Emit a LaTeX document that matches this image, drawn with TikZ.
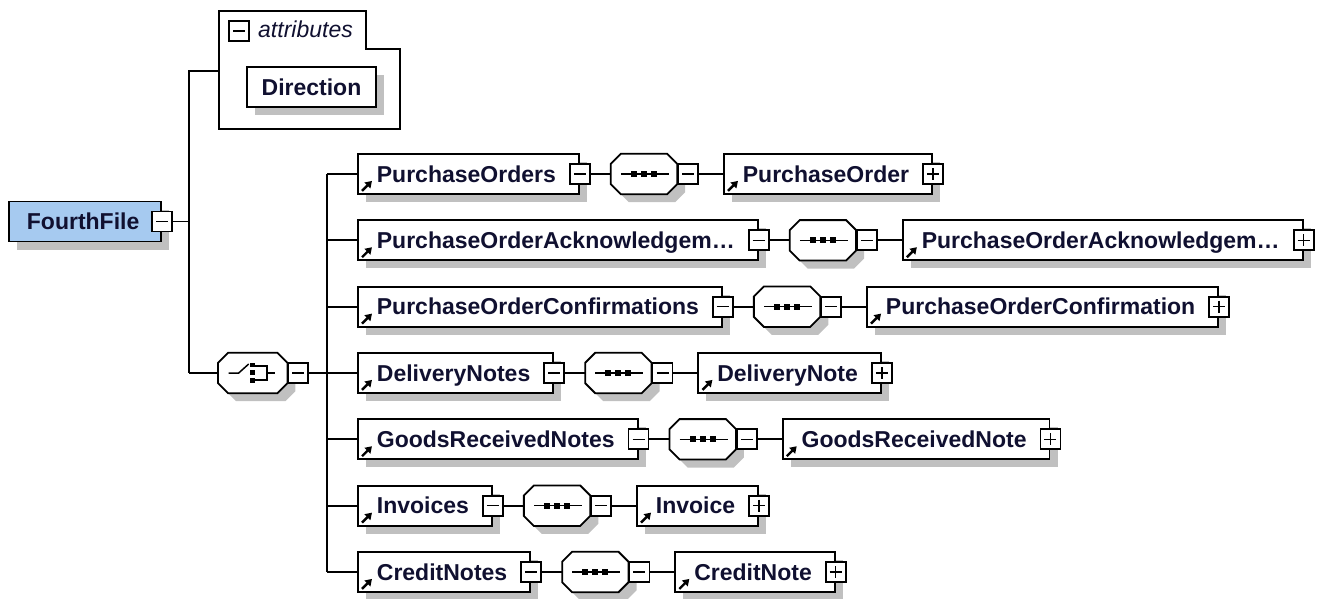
\documentclass[tikz,border=0pt]{standalone}
\usepackage{fontspec}
\setmainfont{Liberation Sans}
\usetikzlibrary{calc,shadows,arrows.meta}
\definecolor{rootblue}{RGB}{166,202,240}
\definecolor{shd}{RGB}{192,192,192}
\definecolor{txt}{RGB}{16,16,48}
\tikzset{
 lw/.style={line width=1.8pt},
 shdw/.style={drop shadow={shadow xshift=8pt,shadow yshift=-8pt,fill=shd,opacity=1}},
 elem/.style={draw, lw, fill=white, shdw, anchor=west, minimum height=40pt, inner xsep=0pt, inner ysep=0pt, text height=16.5pt, text depth=0pt, text=txt, font=\bfseries\fontsize{23}{27}\selectfont},
 pmbox/.style={draw, lw, fill=white, minimum size=20pt, inner sep=0pt, anchor=center},
 minus/.style={pmbox, path picture={\draw[line width=1.5pt] ([xshift=4pt]path picture bounding box.west) -- ([xshift=-4pt]path picture bounding box.east);}},
 plus/.style={pmbox, path picture={\draw[line width=1.5pt] ([xshift=4pt]path picture bounding box.west) -- ([xshift=-4pt]path picture bounding box.east); \draw[line width=1.5pt] ([yshift=-4pt]path picture bounding box.north) -- ([yshift=4pt]path picture bounding box.south);}},
 octo/.style={rectangle, minimum width=66pt, minimum height=40pt, inner sep=0pt},
 conn/.style={lw},
 icon/.style={line width=1.5pt},
}
\newcommand\octpath[3]{($(#1.north west)+(10+#2,#3)$) -- ($(#1.north east)+(-10+#2,#3)$) -- ($(#1.north east)+(#2,10+#3)$) -- ($(#1.south east)+(#2,-10+#3)$) -- ($(#1.south east)+(-10+#2,#3)$) -- ($(#1.south west)+(10+#2,#3)$) -- ($(#1.south west)+(#2,-10+#3)$) -- ($(#1.north west)+(#2,10+#3)$) -- cycle}
\newcommand\drawocto[1]{\fill[shd] \octpath{#1}{8}{8}; \draw[lw,fill=white] \octpath{#1}{0}{0};}
\newcommand\elemarrow[1]{\draw[line width=2.4pt,-{Triangle[length=6.5pt,width=8pt]}] ($(#1.south west)+(5,-4)$) -- ($(#1.south west)+(15,-14)$);}
\newcommand\seqicon[1]{\draw[icon] ($(#1.center)+(-23,0)$) -- ($(#1.center)+(25,0)$);
 \foreach \dx in {-10,0,10} {\fill ($(#1.center)+(\dx-3,-3)$) rectangle ++(6,6);}}
\newcommand\xrow[4]{%
 \node[elem] (b#1) at (357,#2) {\hspace*{19pt}#3\hspace*{23pt}};
 \elemarrow{b#1}
 \node[minus] (b#1m) at (b#1.east) {};
 \node[octo, anchor=west] (s#1) at ($(b#1.east)+(31,0)$) {};
 \drawocto{s#1}
 \seqicon{s#1}
 \node[minus, anchor=west] (s#1m) at (s#1.east) {};
 \node[elem] (c#1) at ($(s#1m.east)+(24,0)$) {\hspace*{19pt}#4\hspace*{23pt}};
 \elemarrow{c#1}
 \node[plus] (c#1p) at (c#1.east) {};
 \draw[conn] (bus#1) -- (b#1);
 \draw[conn] (b#1m) -- (s#1);
 \draw[conn] (s#1m) -- (c#1);
}
\begin{document}
\begin{tikzpicture}[x=1pt,y=-1pt]
\useasboundingbox (0,0) rectangle (1322,599);
% attributes container
\draw[lw] (219,11) -- (366,11) -- (366,49) -- (400,49) -- (400,129) -- (219,129) -- cycle;
\node[minus] (attrm) at (239,31) {};
\node[anchor=base west, text=txt, font=\itshape\fontsize{23}{27}\selectfont, inner sep=0pt] (attrlbl) at (258,38) {attributes};
\node[elem, anchor=center, minimum width=129pt] (dir) at (311.5,87) {Direction};
% root
\node[elem, fill=rootblue] (root) at (8,221.5) {\hspace*{18pt}FourthFile\hspace*{22pt}};
\node[minus] (rootm) at (root.east) {};
\coordinate (j1) at (189,71);
\coordinate (j2) at (189,373);
\coordinate (attrW) at (219,71);
\draw[conn] (attrW) -- (j1) -- (j2);
\draw[conn] (rootm) -- (rootm -| j1);
% bus
\foreach \i/\y in {1/174,2/240.3,3/306.7,4/373,5/439.3,6/505.7,7/572} {\coordinate (bus\i) at (327,\y);}
% choice
\node[octo, anchor=west, minimum width=69pt] (ch) at (218,373) {};
\drawocto{ch}
\draw[icon] ($(ch.center)+(-24,0)$) -- ($(ch.center)+(-14,0)$) -- ($(ch.center)+(-4,-9)$);
\fill ($(ch.center)+(-2.5,-10)$) rectangle ++(5,4);
\fill ($(ch.center)+(-2.5,-3)$) rectangle ++(5,5);
\fill ($(ch.center)+(-2.5,5)$) rectangle ++(5,5);
\draw[icon] ($(ch.center)+(2.5,-7)$) -- ++(12,0) -- ++(0,14) -- ++(-12,0);
\draw[icon] ($(ch.center)+(14.5,0)$) -- ++(8,0);
\node[minus, anchor=west] (chm) at (ch.east) {};
\draw[conn] (j2) -- (ch);
\draw[conn] (chm) -- (bus4);
\draw[conn] (bus1) -- (bus7);
% rows
\xrow{1}{174}{PurchaseOrders}{PurchaseOrder}
\xrow{2}{240.3}{PurchaseOrderAcknowledgem…}{PurchaseOrderAcknowledgem…}
\xrow{3}{306.7}{PurchaseOrderConfirmations}{PurchaseOrderConfirmation}
\xrow{4}{373}{DeliveryNotes}{DeliveryNote}
\xrow{5}{439.3}{GoodsReceivedNotes}{GoodsReceivedNote}
\xrow{6}{505.7}{Invoices}{Invoice}
\xrow{7}{572}{CreditNotes}{CreditNote}
\end{tikzpicture}
\end{document}
